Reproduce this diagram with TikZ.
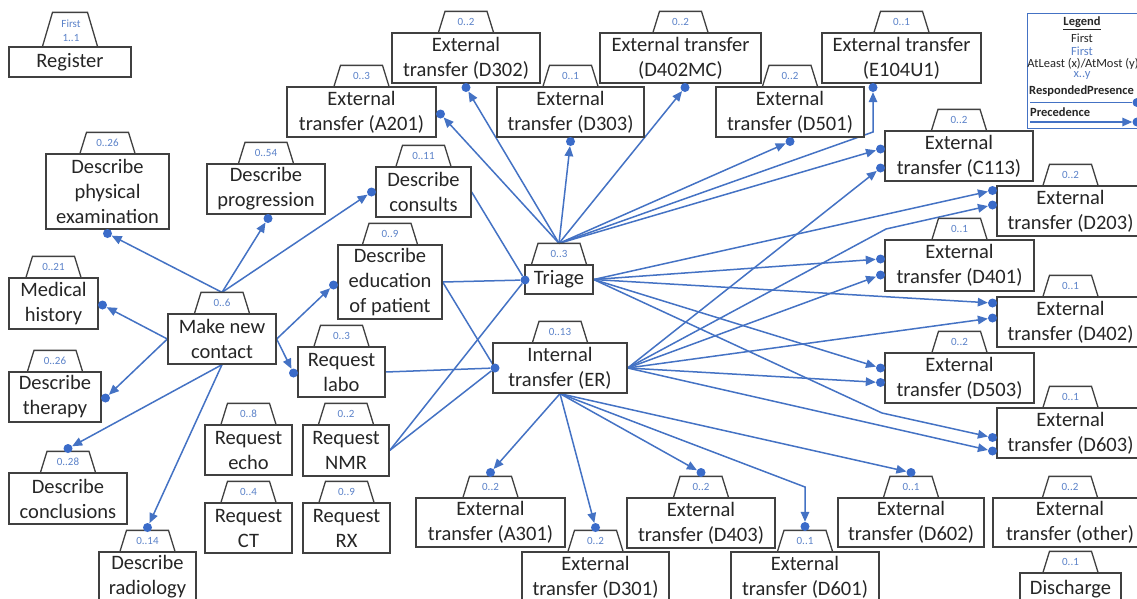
\documentclass[tikz,border=0pt]{standalone}
\usepackage{fontspec}
\setmainfont{Carlito}
\usetikzlibrary{arrows.meta}
\definecolor{connc}{HTML}{4472C4}
\definecolor{dotc}{HTML}{3A6BC9}
\definecolor{tabtxt}{HTML}{5B82C9}
\definecolor{boxc}{HTML}{404040}
\definecolor{txtc}{HTML}{262626}
\pgfdeclarelayer{bg}
\pgfsetlayers{bg,main}
\tikzset{
 box/.style={draw=boxc, line width=1.3pt, fill=white, align=center, inner sep=0pt, text=txtc, font=\fontsize{20.5}{25}\selectfont},
 tabline/.style={draw=boxc, line width=1.3pt},
 tablabel/.style={text=tabtxt, font=\fontsize{11}{12}\selectfont, inner sep=0pt},
 dot/.style={circle, fill=dotc, inner sep=0pt, minimum size=9pt},
 conn/.style={draw=connc, line width=1.5pt},
 prec/.style={conn, -{Triangle[length=10pt,width=8.5pt]}},
 legtxt/.style={inner sep=0pt, text=txtc, font=\fontsize{12.5}{13}\selectfont},
}
\newcommand\mtab[2]{\draw[tabline] (#1.north) ++(-27.5,0) -- ++(6.5,-21) -- ++(42,0) -- ++(6.5,21); \node[tablabel] (#1t) at ([yshift=10.5pt]#1.north) {#2};}
\newcommand\bx[5]{\node[box, minimum width=#4pt, minimum height=#5pt] (#1) at (#2) {#3};}
\begin{document}
\begin{tikzpicture}[x=1pt,y=-1pt]
\useasboundingbox (0,0) rectangle (1137,598);
\begin{pgfonlayer}{bg}
\fill[white] (0,0) rectangle (1137,598);
\end{pgfonlayer}
% boxes
\bx{register}{70,62}{Register}{122}{30}
\draw[tabline] (register.north) ++(-27.5,0) -- ++(10,-34) -- ++(35,0) -- ++(10,34);
\node[tablabel] (registert1) at (71,24) {First};
\node[tablabel] (registert2) at (71,38) {1..1};
\bx{physexam}{107.5,191.5}{Describe\\physical\\examination}{123}{75} \mtab{physexam}{0..26}
\bx{progression}{266,189}{Describe\\progression}{118}{50} \mtab{progression}{0..54}
\bx{consults}{423.5,192}{Describe\\consults}{95}{50} \mtab{consults}{0..11}
\bx{education}{390,282}{Describe\\education\\of patient}{104}{74} \mtab{education}{0..9}
\bx{history}{53.5,303.5}{Medical\\history}{89}{51} \mtab{history}{0..21}
\bx{mnc}{222,339}{Make new\\contact}{108}{50} \mtab{mnc}{0..6}
\bx{therapy}{55,397}{Describe\\therapy}{92}{50} \mtab{therapy}{0..26}
\bx{labo}{341.5,372}{Request\\labo}{87}{50} \mtab{labo}{0..3}
\bx{conclusions}{68,498.5}{Describe\\conclusions}{118}{51} \mtab{conclusions}{0..28}
\bx{radiology}{147.5,577}{Describe\\radiology}{97}{50} \mtab{radiology}{0..14}
\bx{echo}{248.5,450}{Request\\echo}{87}{50} \mtab{echo}{0..8}
\bx{nmr}{346,450.5}{Request\\NMR}{86}{51} \mtab{nmr}{0..2}
\bx{ct}{248.5,528}{Request\\CT}{87}{50} \mtab{ct}{0..4}
\bx{rx}{346.5,528}{Request\\RX}{87}{50} \mtab{rx}{0..9}
\bx{a201}{361.5,112}{External\\transfer (A201)}{149}{50} \mtab{a201}{0..3}
\bx{d302}{466,58}{External\\transfer (D302)}{148}{50} \mtab{d302}{0..2}
\bx{d303}{570.5,112}{External\\transfer (D303)}{147}{50} \mtab{d303}{0..1}
\bx{d402mc}{680.5,58}{External transfer\\(D402MC)}{161}{50} \mtab{d402mc}{0..2}
\bx{d501}{790,112}{External\\transfer (D501)}{148}{50} \mtab{d501}{0..2}
\bx{e104}{901.5,58}{External transfer\\(E104U1)}{159}{50} \mtab{e104}{0..1}
\bx{c113}{959,156}{External\\transfer (C113)}{148}{50} \mtab{c113}{0..2}
\bx{d203}{1070.5,211}{External\\transfer (D203)}{147}{50} \mtab{d203}{0..2}
\bx{d401}{959.5,265.5}{External\\transfer (D401)}{149}{51} \mtab{d401}{0..1}
\bx{d402}{1070.5,322}{External\\transfer (D402)}{147}{50} \mtab{d402}{0..1}
\bx{d503}{959.5,378}{External\\transfer (D503)}{149}{50} \mtab{d503}{0..2}
\bx{d603}{1070.5,433}{External\\transfer (D603)}{147}{50} \mtab{d603}{0..1}
\bx{triage}{559,279.5}{Triage}{68}{29} \mtab{triage}{0..3}
\bx{er}{560,368}{Internal\\transfer (ER)}{134}{50} \mtab{er}{0..13}
\bx{a301}{490.5,522.5}{External\\transfer (A301)}{149}{49} \mtab{a301}{0..2}
\bx{d301}{595.5,577}{External\\transfer (D301)}{147}{50} \mtab{d301}{0..2}
\bx{d403}{701,523}{External\\transfer (D403)}{148}{50} \mtab{d403}{0..2}
\bx{d601}{805,577}{External\\transfer (D601)}{148}{50} \mtab{d601}{0..1}
\bx{d602}{911,522.5}{External\\transfer (D602)}{146}{49} \mtab{d602}{0..1}
\bx{other}{1070,522.5}{External\\transfer (other)}{154}{49} \mtab{other}{0..2}
\bx{discharge}{1070.5,589}{Discharge}{101}{32} \mtab{discharge}{0..1}
% legend
\node[draw=connc, line width=1pt, fill=white, minimum width=118pt, minimum height=115pt, inner sep=0pt] (legend) at (1086,70.5) {};
\node[legtxt] (legtitle) at (1082,23) {\textbf{\underline{Legend}}};
\node[legtxt] (legfirst) at (1082,38.5) {First};
\node[legtxt, text=tabtxt] (legfirstb) at (1082,51) {First};
\node[legtxt] (legat) at (1083,63.5) {AtLeast (x)/AtMost (y)};
\node[legtxt, text=tabtxt] (legxy) at (1082,75.5) {x..y};
\node[legtxt, anchor=west] (legrp) at (1029,91) {\textbf{RespondedPresence}};
\node[legtxt, anchor=west] (legpr) at (1030,112) {\textbf{Precedence}};
\coordinate (l1) at (1030,102.5);
\coordinate (l2) at (1030,122);
\node[dot] (ldot1) at (1137,102.5) {};
\node[dot] (ldot2) at (1137,122) {};
\draw[conn] (l1) -- (ldot1);
\draw[prec] (l2) -- (ldot2);
% dots
\node[dot] (dPhys) at (107.5,233.5) {};
\node[dot] (dProg) at (268,218.5) {};
\node[dot] (dCons) at (371.5,192) {};
\node[dot] (dEdu) at (333.5,285) {};
\node[dot] (dLabo) at (293.5,373) {};
\node[dot] (dHist) at (102.5,305) {};
\node[dot] (dTher) at (105.5,398) {};
\node[dot] (dConc) at (68,448.5) {};
\node[dot] (dRad) at (147.5,527.5) {};
\node[dot] (dTri) at (525,280) {};
\node[dot] (dER) at (495,368) {};
\node[dot] (dA201) at (440.5,114) {};
\node[dot] (dD302) at (466,87.5) {};
\node[dot] (dD303) at (570.5,141.5) {};
\node[dot] (dD402MC) at (685,87.5) {};
\node[dot] (dD501) at (790,141.5) {};
\node[dot] (dE104) at (873,87.5) {};
\node[dot] (dC113a) at (880.5,149) {};
\node[dot] (dC113b) at (880.5,168) {};
\node[dot] (dD203a) at (992.5,190.5) {};
\node[dot] (dD203b) at (992.5,205) {};
\node[dot] (dD401a) at (880.5,259) {};
\node[dot] (dD401b) at (880.5,275) {};
\node[dot] (dD402a) at (992.5,303) {};
\node[dot] (dD402b) at (992.5,318) {};
\node[dot] (dD503a) at (880.5,368) {};
\node[dot] (dD503b) at (880.5,382.5) {};
\node[dot] (dD603a) at (992.5,437.5) {};
\node[dot] (dD603b) at (992.5,451) {};
\node[dot] (dA301) at (490.5,472.5) {};
\node[dot] (dD301) at (595.5,527.5) {};
\node[dot] (dD403) at (701,472.5) {};
\node[dot] (dD601) at (805,526.5) {};
\node[dot] (dD602) at (911,472.5) {};
% bends and sources
\coordinate (bE104) at (873,132);
\coordinate (bD203) at (886,229);
\coordinate (bD603) at (882,413);
\coordinate (bD601) at (805,487);
\coordinate (mncA) at ([yshift=21pt]mnc.north);
\coordinate (triA) at ([yshift=21pt]triage.north);
\begin{pgfonlayer}{bg}
% make new contact
\draw[prec] (mncA) -- (dPhys);
\draw[prec] (mncA) -- (dProg);
\draw[prec] (mncA) -- (dCons);
\draw[prec] (mnc.east) -- (dEdu);
\draw[prec] (mnc.east) -- (dLabo);
\draw[prec] (mnc.west) -- (dHist);
\draw[prec] (mnc.west) -- (dTher);
\draw[prec] (mnc.south) -- (dConc);
\draw[prec] (mnc.south) -- (dRad);
% responded presence
\draw[conn] (consults.east) -- (dTri);
\draw[conn] (education.east) -- (dTri);
\draw[conn] (nmr.east) -- (dTri);
\draw[conn] (labo.east) -- (dER);
\draw[conn] (education.east) -- (dER);
\draw[conn] (nmr.east) -- (dER);
% triage
\draw[prec] (triA) -- (dA201);
\draw[prec] (triA) -- (dD302);
\draw[prec] (triA) -- (dD303);
\draw[prec] (triA) -- (dD402MC);
\draw[prec] (triA) -- (dD501);
\draw[prec] (triA) -- (bE104) -- (dE104);
\draw[prec] (triA) -- (dC113a);
\draw[prec] (triage.east) -- (dD203a);
\draw[prec] (triage.east) -- (dD401a);
\draw[prec] (triage.east) -- (dD402a);
\draw[prec] (triage.east) -- (dD503a);
\draw[prec] (triage.east) -- (bD603) -- (dD603a);
% internal transfer
\draw[prec] (er.east) -- (dC113b);
\draw[prec] (er.east) -- (bD203) -- (dD203b);
\draw[prec] (er.east) -- (dD401b);
\draw[prec] (er.east) -- (dD402b);
\draw[prec] (er.east) -- (dD503b);
\draw[prec] (er.east) -- (dD603b);
\draw[prec] (er.south) -- (dA301);
\draw[prec] (er.south) -- (dD301);
\draw[prec] (er.south) -- (dD403);
\draw[prec] (er.south) -- (bD601) -- (dD601);
\draw[prec] (er.south) -- (dD602);
\end{pgfonlayer}
\end{tikzpicture}
\end{document}
